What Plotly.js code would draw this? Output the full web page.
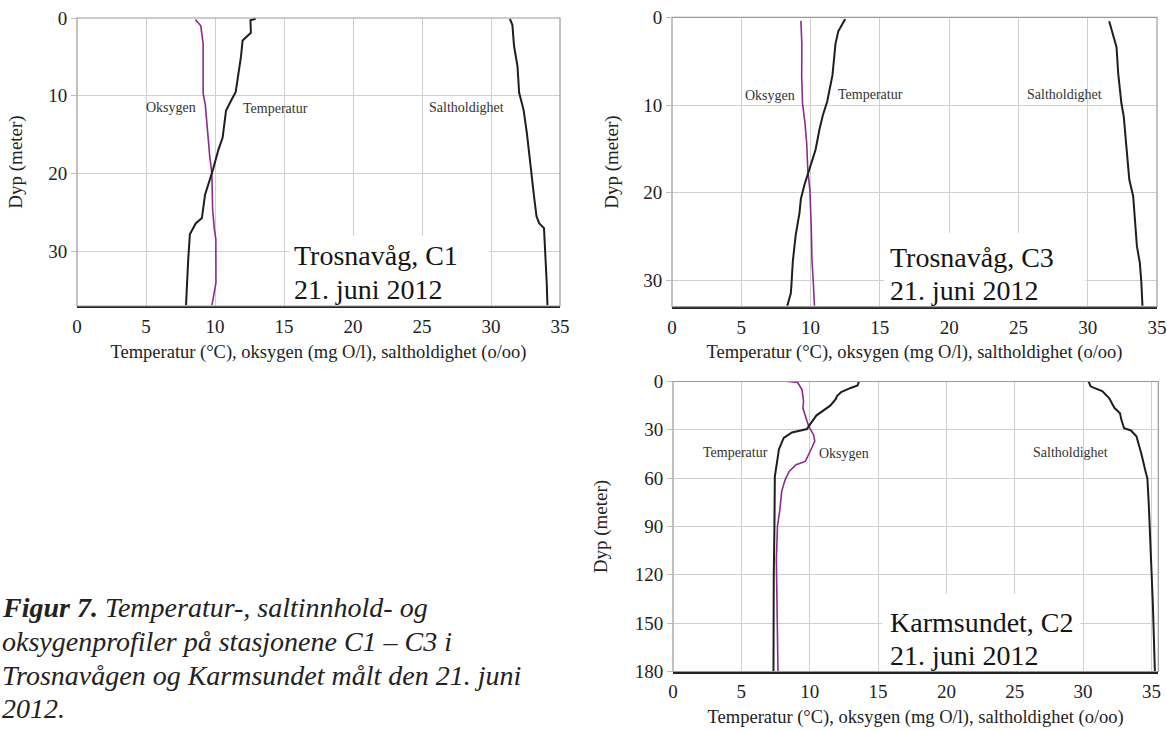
<!DOCTYPE html>
<html>
<head>
<meta charset="utf-8">
<script src="https://cdn.plot.ly/plotly-3.0.1.min.js"></script>
<style>html,body{margin:0;padding:0;background:#fff;}#chart{width:1167px;height:731px;}</style>
</head>
<body>
<div id="chart"></div>
<script>
// ---------- Trosnavåg, C1 ----------
const c1TempDepth = [0.1, 0.3, 1.9, 2.9, 5.0, 9.5, 10.5, 11.9, 15.4, 16.9, 19.5, 22.7, 25.7, 26.4, 27.8, 31.0, 36.9];
const c1Temp      = [12.95, 12.57, 12.6, 12.0, 11.88, 11.5, 11.2, 10.8, 10.55, 10.25, 9.85, 9.28, 9.05, 8.6, 8.18, 8.06, 7.9];
const c1OxyDepth  = [0.2, 1.0, 3.3, 9.7, 11.2, 15.2, 17.8, 19.9, 24.6, 27.1, 28.4, 34.0, 35.2, 36.9];
const c1Oxy       = [8.57, 8.97, 9.14, 9.14, 9.3, 9.47, 9.62, 9.77, 9.83, 9.95, 10.06, 10.07, 9.95, 9.78];
const c1SalDepth  = [0.1, 0.9, 3.6, 6.2, 9.6, 11.8, 14.8, 17.8, 20.8, 23.4, 25.5, 26.4, 27.0, 29.8, 34.1, 36.9];
const c1Sal       = [31.37, 31.55, 31.67, 31.92, 32.04, 32.36, 32.6, 32.78, 32.96, 33.15, 33.3, 33.5, 33.84, 33.94, 34.04, 34.09];

// ---------- Trosnavåg, C3 ----------
const c3TempDepth = [0.2, 1.6, 3.0, 6.6, 9.6, 11.2, 12.8, 15.1, 17.4, 19.1, 20.7, 22.3, 24.8, 27.8, 30.5, 31.5, 32.9];
const c3Temp      = [12.5, 12.0, 11.8, 11.58, 11.2, 10.88, 10.64, 10.36, 9.9, 9.56, 9.3, 9.2, 8.93, 8.72, 8.62, 8.57, 8.32];
const c3OxyDepth  = [0.4, 3.0, 6.8, 9.8, 12.1, 14.4, 17.4, 19.7, 23.9, 27.7, 30.3, 32.9];
const c3Oxy       = [9.3, 9.37, 9.36, 9.42, 9.6, 9.72, 9.8, 9.95, 10.05, 10.1, 10.2, 10.28];
const c3SalDepth  = [0.45, 1.9, 3.4, 6.4, 9.8, 11.3, 14.0, 18.5, 20.4, 22.7, 26.1, 28.0, 30.2, 32.9];
const c3Sal       = [31.55, 31.81, 32.08, 32.2, 32.43, 32.6, 32.75, 33.0, 33.28, 33.41, 33.55, 33.76, 33.87, 33.95];

// ---------- Karmsundet, C2 ----------
const c2TempDepth = [0, 2.5, 4.0, 6.6, 9.0, 11.0, 15.0, 17.6, 21.0, 26.3, 29.5, 31.6, 35.0, 42.0, 52.0, 59.0, 90.0, 121.0, 180.0];
const c2Temp      = [13.6, 13.5, 13.0, 12.3, 12.0, 11.9, 11.5, 11.1, 10.5, 10.05, 9.8, 8.7, 8.1, 7.75, 7.55, 7.45, 7.42, 7.37, 7.35];
const c2OxyDepth  = [0, 0.6, 5.2, 12.4, 16.5, 21.7, 27.9, 33.0, 37.0, 41.3, 49.6, 51.7, 55.8, 61.0, 68.2, 79.5, 90.0, 110.5, 152.0, 180.0];
const c2Oxy       = [8.4, 9.12, 9.44, 9.55, 9.5, 9.68, 9.93, 10.28, 10.37, 10.15, 9.68, 9.0, 8.5, 8.2, 7.95, 7.82, 7.64, 7.56, 7.62, 7.68];
const c2SalDepth  = [0, 3, 4, 6, 10.3, 16.5, 19.7, 23.8, 29, 30.4, 34, 44.5, 56.9, 60, 75.5, 96, 119, 137.6, 180];
const c2Sal       = [30.4, 30.55, 30.8, 31.4, 31.9, 32.3, 32.7, 32.8, 33.0, 33.5, 33.9, 34.25, 34.6, 34.7, 34.8, 34.9, 35.0, 35.1, 35.25];

const xTitle = 'Temperatur (°C), oksygen (mg O/l), saltholdighet (o/oo)';
const yTitle = 'Dyp (meter)';
const xTickVals = [0, 5, 10, 15, 20, 25, 30, 35];
const c1Label = ['Trosnavåg, C1', '21. juni 2012'];
const c3Label = ['Trosnavåg, C3', '21. juni 2012'];
const c2Label = ['Karmsundet, C2', '21. juni 2012'];
const captionLines = [
  '<b><i>Figur 7.</i></b><i> Temperatur-, saltinnhold- og</i>',
  '<i>oksygenprofiler på stasjonene C1 – C3 i</i>',
  '<i>Trosnavågen og Karmsundet målt den 21. juni</i>',
  '<i>2012.</i>'
];

const SERIF = '"Liberation Serif", "DejaVu Serif", serif';
const BLACK = '#1e1e1e';
const PURPLE = '#8c2a90';

function line(x, y, color, width, xa, ya) {
  return {x: x, y: y, type: 'scatter', mode: 'lines', line: {color: color, width: width, shape: 'linear'},
          xaxis: xa, yaxis: ya, showlegend: false, hoverinfo: 'skip'};
}

const traces = [
  line(c1Oxy, c1OxyDepth, PURPLE, 1.6, 'x', 'y'),
  line(c1Temp, c1TempDepth, BLACK, 2, 'x', 'y'),
  line(c1Sal, c1SalDepth, BLACK, 2, 'x', 'y'),
  line(c3Oxy, c3OxyDepth, PURPLE, 1.6, 'x2', 'y2'),
  line(c3Temp, c3TempDepth, BLACK, 2, 'x2', 'y2'),
  line(c3Sal, c3SalDepth, BLACK, 2, 'x2', 'y2'),
  line(c2Oxy, c2OxyDepth, PURPLE, 1.6, 'x3', 'y3'),
  line(c2Temp, c2TempDepth, BLACK, 2, 'x3', 'y3'),
  line(c2Sal, c2SalDepth, BLACK, 2, 'x3', 'y3')
];

function xaxis(domain, range, anchor) {
  return {
    domain: domain, range: range, anchor: anchor,
    tickvals: xTickVals, ticks: '', ticklabelstandoff: 2,
    showgrid: true, gridcolor: '#cfcfcf', gridwidth: 1, zeroline: false,
    showline: true, linecolor: '#222', linewidth: 2,
    tickfont: {family: SERIF, size: 19, color: '#222'},
    title: {text: xTitle, font: {family: SERIF, size: 18.5, color: '#222'}, standoff: 9}
  };
}
function yaxis(domain, range, anchor, dtick, standoff) {
  return {
    domain: domain, range: range, anchor: anchor, dtick: dtick, tick0: 0,
    ticks: 'outside', ticklen: 5, tickcolor: '#bdbdbd',
    showgrid: true, gridcolor: '#cfcfcf', gridwidth: 1, zeroline: false,
    showline: false,
    tickfont: {family: SERIF, size: 19, color: '#222'},
    title: {text: yTitle, font: {family: SERIF, size: 19, color: '#222'}, standoff: standoff}
  };
}

const W = 1167, H = 731;
const layout = {
  width: W, height: H,
  margin: {l: 0, r: 0, t: 0, b: 0},
  paper_bgcolor: '#fff', plot_bgcolor: '#fff',
  showlegend: false,
  xaxis:  xaxis([77 / W, 560 / W], [0, 35], 'y'),
  yaxis:  yaxis([1 - 306 / H, 1 - 18 / H], [37, 0], 'x', 10, 20),
  xaxis2: xaxis([672 / W, 1157 / W], [0, 35], 'y2'),
  yaxis2: yaxis([1 - 306.7 / H, 1 - 17.3 / H], [33, 0], 'x2', 10, 19),
  xaxis3: xaxis([673 / W, 1158.3 / W], [0, 35.5], 'y3'),
  yaxis3: yaxis([1 - 671.5 / H, 1 - 381.5 / H], [180, 0], 'x3', 30, 22),
  shapes: [],
  annotations: []
};

// white label boxes + gray plot frames
[['x', 'y', [15.4, 29.85], [28, 37]], ['x2', 'y2', [15.3, 29.85], [24.6, 33]], ['x3', 'y3', [15.3, 29.8], [131.7, 180]]]
  .forEach(function (p) {
    layout.shapes.push({type: 'rect', xref: p[0], yref: p[1], x0: p[2][0], x1: p[2][1], y0: p[3][0], y1: p[3][1],
      fillcolor: '#fff', line: {width: 0}, layer: 'between'});
    layout.shapes.push({type: 'rect', xref: p[0] + ' domain', yref: p[1] + ' domain', x0: 0, x1: 1, y0: 0, y1: 1,
      fillcolor: 'rgba(0,0,0,0)', line: {color: '#9a9a9a', width: 1.2}, layer: 'above'});
  });

function small(text, xa, ya, x, y) {
  layout.annotations.push({text: text, xref: xa, yref: ya, x: x, y: y, showarrow: false,
    xanchor: 'center', yanchor: 'middle', font: {family: SERIF, size: 14, color: '#333'}});
}
small('Oksygen', 'x', 'y', 6.8, 11.5);
small('Temperatur', 'x', 'y', 14.4, 11.6);
small('Saltholdighet', 'x', 'y', 28.2, 11.5);
small('Oksygen', 'x2', 'y2', 7.1, 8.9);
small('Temperatur', 'x2', 'y2', 14.3, 8.8);
small('Saltholdighet', 'x2', 'y2', 28.3, 8.8);
small('Temperatur', 'x3', 'y3', 4.55, 44.3);
small('Oksygen', 'x3', 'y3', 12.5, 44.9);
small('Saltholdighet', 'x3', 'y3', 29.1, 43.9);

function big(lines, xa, ya, x, ys) {
  lines.forEach(function (t, i) {
    layout.annotations.push({text: t, xref: xa, yref: ya, x: x, y: ys[i], showarrow: false,
      xanchor: 'left', yanchor: 'middle', font: {family: SERIF, size: 28, color: '#151515'}});
  });
}
big(c1Label, 'x', 'y', 15.6, [30.5, 34.9]);
big(c3Label, 'x2', 'y2', 15.6, [27.4, 31.1]);
big(c2Label, 'x3', 'y3', 15.7, [149.3, 169.8]);

const capY = [607, 641, 675, 708];
captionLines.forEach(function (t, i) {
  layout.annotations.push({text: t, xref: 'paper', yref: 'paper', x: 0, y: 1 - capY[i] / H, showarrow: false,
    xanchor: 'left', yanchor: 'middle', font: {family: SERIF, size: 28, color: '#222'}});
});

Plotly.newPlot('chart', traces, layout, {staticPlot: true, displayModeBar: false});
</script>
</body>
</html>
